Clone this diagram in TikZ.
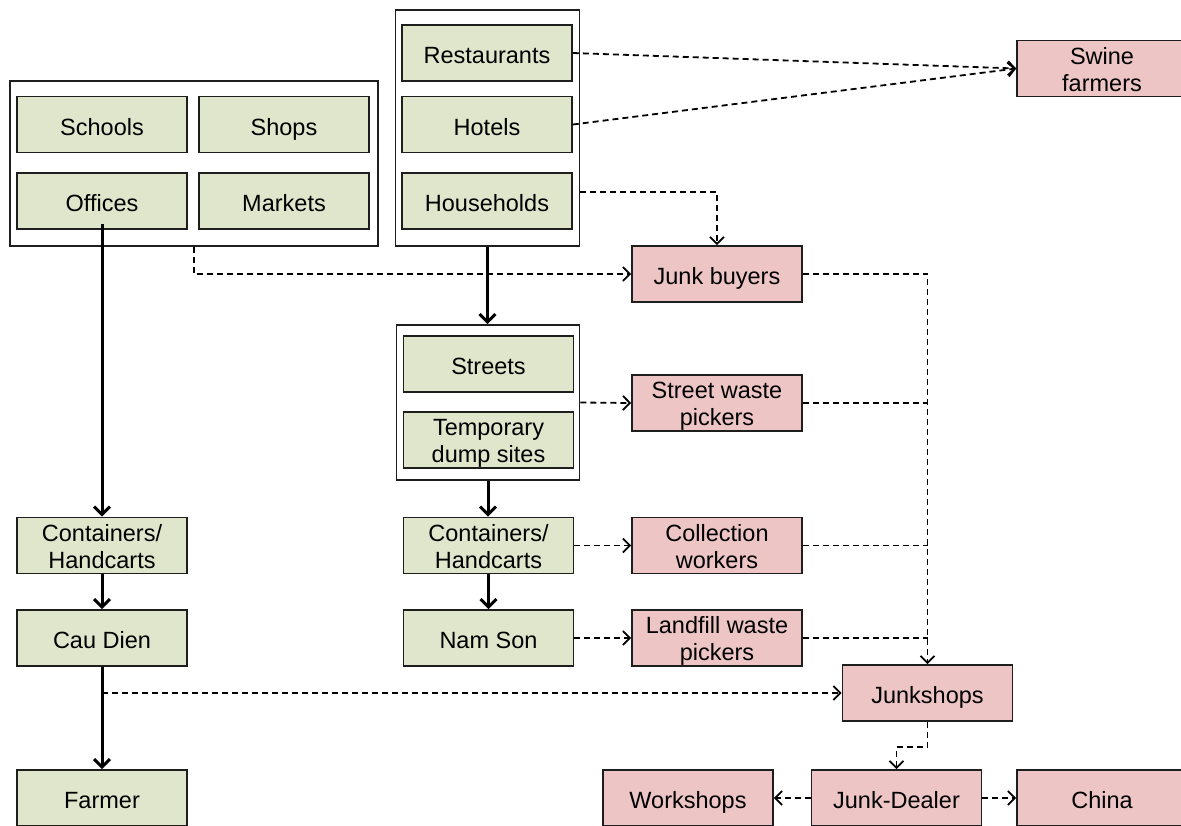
\documentclass[tikz,border=0pt]{standalone}
\usepackage{fontspec}
\setmainfont{Liberation Sans}
\usetikzlibrary{arrows.meta,calc}
\definecolor{gfill}{RGB}{223,230,203}
\definecolor{pfill}{RGB}{236,197,196}
\definecolor{edge}{RGB}{30,30,30}
\begin{document}
\begin{tikzpicture}[x=1pt,y=-1pt,
 box/.style={draw=edge,line width=1.6pt,minimum width=170pt,minimum height=56pt,inner sep=0pt,align=center,font=\fontsize{23.5}{27}\selectfont,text height=21pt,text depth=0pt},
 twoline/.style={text height=45pt,text depth=0pt},
 gbox/.style={box,fill=gfill},
 pbox/.style={box,fill=pfill},
 group/.style={draw=edge,line width=1.6pt,fill=white,inner sep=0pt},
 flowarrow/.style={line width=3pt,-{Straight Barb[length=8pt,width=16pt]}},
 dasharrow/.style={line width=1.8pt,dash pattern=on 6pt off 4pt,-{Straight Barb[length=7pt,width=14pt]}},
 dashline/.style={line width=1.8pt,dash pattern=on 6pt off 4pt}]
\useasboundingbox (0,0) rectangle (1181,825);
\clip (0,0) rectangle (1181,825);
\fill[white] (0,0) rectangle (1181,825);
% groups
\node[group,minimum width=368pt,minimum height=165pt] (lgrp) at (194,163.5) {};
\node[group,minimum width=184pt,minimum height=236pt] (mgrp) at (487.5,128) {};
\node[group,minimum width=183pt,minimum height=155pt] (sgrp) at (488,402.5) {};
% green nodes
\node[gbox] (schools) at (102,124.5) {Schools};
\node[gbox] (shops) at (284,124.5) {Shops};
\node[gbox] (offices) at (102,201) {Offices};
\node[gbox] (markets) at (284,201) {Markets};
\node[gbox] (rest) at (487,53) {Restaurants};
\node[gbox] (hotels) at (487,124.5) {Hotels};
\node[gbox] (house) at (487,201) {Households};
\node[gbox] (streets) at (488.5,364) {Streets};
\node[gbox,twoline] (temp) at (488.5,440) {Temporary\\dump sites};
\node[gbox,twoline] (cont2) at (488.5,545.5) {Containers/\\Handcarts};
\node[gbox] (namson) at (488.5,638) {Nam Son};
\node[gbox,twoline] (cont1) at (102,545.5) {Containers/\\Handcarts};
\node[gbox] (caudien) at (102,638) {Cau Dien};
\node[gbox] (farmer) at (102,798) {Farmer};
% pink nodes
\node[pbox,twoline] (swine) at (1102,68.5) {Swine\\farmers};
\node[pbox] (jbuy) at (717,274) {Junk buyers};
\node[pbox,twoline] (swp) at (717,403) {Street waste\\pickers};
\node[pbox,twoline] (coll) at (717,545.5) {Collection\\workers};
\node[pbox,twoline] (land) at (717,638) {Landfill waste\\pickers};
\node[pbox] (jshop) at (927.5,693) {Junkshops};
\node[pbox] (work) at (688,798) {Workshops};
\node[pbox] (dealer) at (896.5,798) {Junk-Dealer};
\node[pbox] (china) at (1102,798) {China};
% thick flows
\draw[flowarrow] ([yshift=6pt]offices.south) -- (offices.south |- cont1.north);
\draw[flowarrow] (cont1.south) -- (caudien.north);
\draw[flowarrow] (caudien.south) -- (farmer.north);
\draw[flowarrow] (mgrp.south) -- (mgrp.south |- sgrp.north);
\draw[flowarrow] (sgrp.south) -- (sgrp.south |- cont2.north);
\draw[flowarrow] (cont2.south) -- (namson.north);
% dashed flows
\draw[dasharrow] (lgrp.south) |- (jbuy.west);
\draw[dasharrow] (rest.east) -- (swine.west);
\draw[dasharrow] (hotels.east) -- (swine.west);
\coordinate (hhs) at ($(mgrp.east |- house.east)+(0,-9)$);
\draw[dasharrow] (hhs) -| (jbuy.north);
\draw[dasharrow] (sgrp.east) -- (swp.west);
\draw[dasharrow] (cont2.east) -- (coll.west);
\draw[dasharrow] (namson.east) -- (land.west);
\draw[dasharrow] (jbuy.east) -| (jshop.north);
\draw[dashline] (swp.east) -- (swp.east -| jshop.north);
\draw[dashline] (coll.east) -- (coll.east -| jshop.north);
\draw[dashline] (land.east) -- (land.east -| jshop.north);
\draw[dasharrow] (caudien.south |- jshop.west) -- (jshop.west);
\draw[dasharrow] (jshop.south) -- ++(0,25) -| (dealer.north);
\draw[dasharrow] (dealer.west) -- (work.east);
\draw[dasharrow] (dealer.east) -- (china.west);
\end{tikzpicture}
\end{document}
